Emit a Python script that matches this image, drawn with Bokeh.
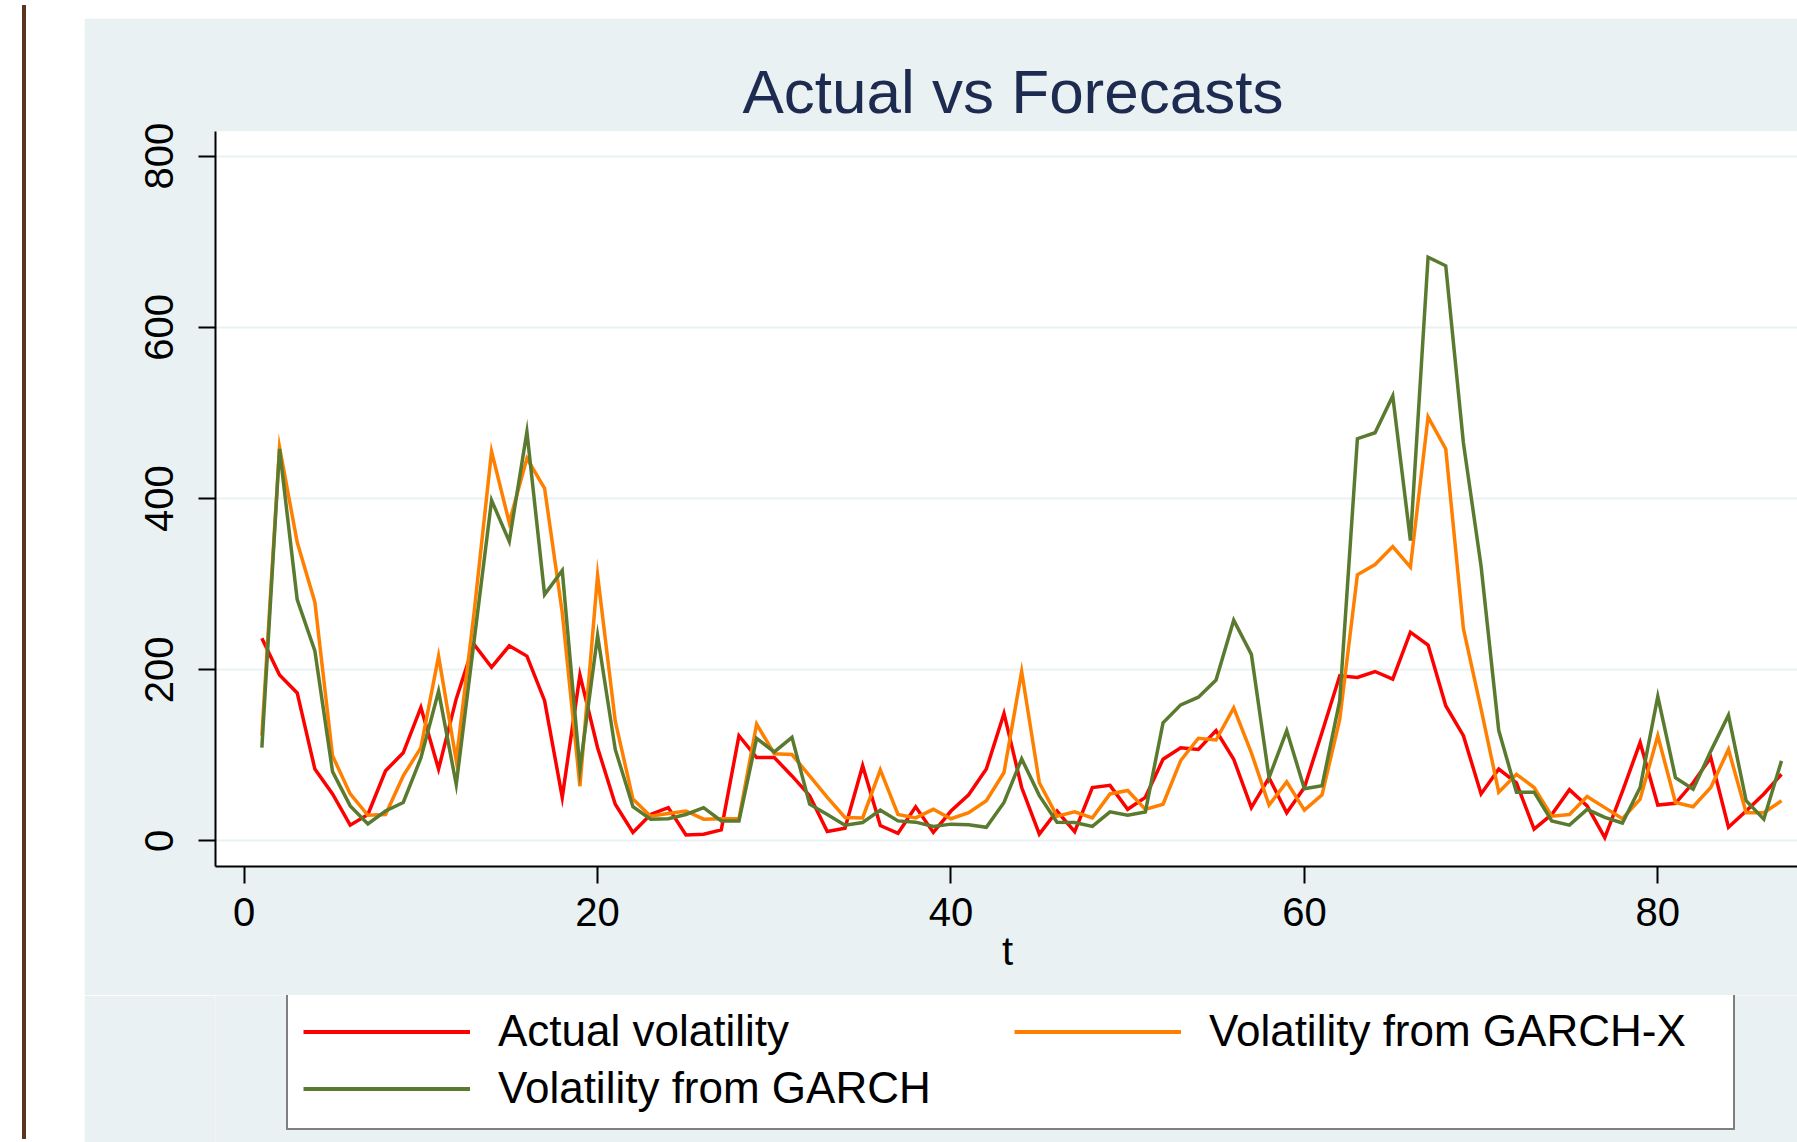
from bokeh.plotting import figure
from bokeh.models import Range1d, Legend, LegendItem, Div, FixedTicker
from bokeh.layouts import row, column
from bokeh.embed import file_html
from bokeh.resources import INLINE

t = list(range(1, 88))

actual = [237, 194, 173, 84, 55, 18.5, 31, 82, 103, 156,
          84, 166, 230, 203, 228, 216, 164, 51, 194, 109,
          43, 10, 31, 39, 7, 8, 13, 123, 97.5, 97.5,
          76, 53, 11, 15, 88, 18, 9, 40, 10, 35,
          54, 84, 149, 62.5, 8, 35, 11, 62.5, 65, 37,
          51, 95.5, 109, 107, 129, 95.5, 39, 74, 33, 62.5,
          127, 193, 191, 198, 189, 244, 229, 158, 123, 55,
          84, 68, 14, 31, 60, 41, 4, 58, 115, 42,
          44, 68, 97.5, 16, 35, 55, 78]

garch_x = [123, 460, 349, 279, 99.5, 55, 30, 31, 76, 109,
           216, 94, 265, 455, 372, 447, 412, 267, 64, 310.5,
           140, 49, 29, 32, 35, 25.5, 26, 26, 136.5, 102,
           101, 76, 51, 27.5, 27, 83, 31, 27, 37, 26,
           33, 47, 80, 198, 68, 29, 34, 27, 55, 59,
           37, 43, 94, 120, 118, 155.5, 103, 42, 69, 36,
           54, 142, 311, 323, 344, 320, 495.5, 458, 248, 154,
           57, 78, 62.5, 29, 31, 52, 39, 26, 49, 123,
           45, 40, 62.5, 107, 33, 33, 47]

garch = [109, 458, 282, 222, 81, 41, 20, 35, 45, 97,
         175, 66, 232, 398, 350, 478, 288, 316, 84, 240,
         107, 40, 25.5, 26, 31, 39, 23.5, 23.5, 120, 104,
         121, 43, 31, 18.5, 21.6, 36, 23.5, 22, 17, 19.7,
         19, 16, 45, 96, 53, 22, 21.6, 17, 34, 30,
         34, 138, 159, 168, 188, 258, 218, 74, 129, 61,
         64.5, 164, 470, 477, 520, 351, 682, 672, 465, 321,
         129, 57, 57, 23.5, 18.5, 37, 27.5, 21, 62.5, 169,
         74, 60.5, 105, 147, 47, 25.5, 93.6]

series_names = ["Actual volatility", "Volatility from GARCH-X", "Volatility from GARCH"]
series_colors = ["#FF0000", "#FF8000", "#5A7B2F"]
y_ticks = [0, 200, 400, 600, 800]
x_ticks = [0, 20, 40, 60, 80]

BG = "#E9F1F3"
FONT = "Liberation Sans"
LW = 3.5

LEFT_W = 74
TOP_H = 8
TOTAL_H = 1134
FIG_W = 1789 - LEFT_W
B = 129
P_H = 848 + B
LF_H = TOTAL_H - TOP_H - P_H

p = figure(width=FIG_W, height=P_H, output_backend="svg", toolbar_location=None,
           x_range=Range1d(-1.624, 88.02), y_range=Range1d(-29.8, 828.9),
           min_border_left=131, min_border_right=0, min_border_top=113,
           min_border_bottom=B, title="Actual vs Forecasts")
p.border_fill_color = BG
p.background_fill_color = "white"
p.outline_line_color = None

p.title.text_font = FONT
p.title.text_font_size = "62px"
p.title.text_font_style = "normal"
p.title.text_color = "#1E2B50"
p.title.align = "left"
p.title.offset = 527
p.title.standoff = 11

for ys, col in zip([actual, garch_x, garch], series_colors):
    p.line(t, ys, line_color=col, line_width=LW, line_join="miter")

for ax in (p.xaxis[0], p.yaxis[0]):
    ax.axis_line_color = "black"
    ax.axis_line_width = 2
    ax.major_tick_line_color = "black"
    ax.major_tick_line_width = 2
    ax.major_tick_out = 17
    ax.major_tick_in = 0
    ax.minor_tick_line_color = None
    ax.major_label_text_font = FONT
    ax.major_label_text_font_size = "40px"
    ax.major_label_text_color = "black"

p.xaxis.ticker = FixedTicker(ticks=x_ticks)
p.yaxis.ticker = FixedTicker(ticks=y_ticks)
p.xaxis.major_label_standoff = 14
p.yaxis.major_label_standoff = 25
p.yaxis.major_label_orientation = "vertical"
p.xaxis.axis_label = "t"
p.xaxis.axis_label_text_font = FONT
p.xaxis.axis_label_text_font_size = "40px"
p.xaxis.axis_label_text_font_style = "normal"
p.xaxis.axis_label_text_color = "black"
p.xaxis.axis_label_standoff = 0

p.xgrid.grid_line_color = None
p.ygrid.grid_line_color = BG
p.ygrid.grid_line_width = 2

# legend panel: a second figure whose frame fills it, so the legend is not clipped;
# its series are the same data, drawn outside its (empty) visible range
lf = figure(width=FIG_W, height=LF_H, output_backend="svg", toolbar_location=None,
            x_axis_type=None, y_axis_type=None,
            x_range=Range1d(-3, -2), y_range=Range1d(-3, -2),
            min_border_left=0, min_border_right=0, min_border_top=0, min_border_bottom=0)
lf.border_fill_color = BG
lf.background_fill_color = BG
lf.outline_line_color = None
lf.xgrid.grid_line_color = None
lf.ygrid.grid_line_color = None

items = []
for name, ys, col in zip(series_names, [actual, garch_x, garch], series_colors):
    r = lf.line(t, ys, line_color=col, line_width=4)
    items.append(LegendItem(label=name, renderers=[r]))

legend = Legend(items=items, location=(71, 14), orientation="horizontal", ncols=2)
legend.label_text_font = FONT
legend.label_text_font_size = "44px"
legend.label_text_color = "black"
legend.glyph_width = 167
legend.glyph_height = 49
legend.label_height = 49
legend.label_width = 509
legend.label_standoff = 28
legend.spacing = 7
legend.padding = 15
legend.margin = 0
legend.border_line_color = "black"
legend.border_line_width = 2.5
legend.background_fill_color = "white"
legend.background_fill_alpha = 1
lf.add_layout(legend, "center")

left = Div(width=LEFT_W, height=TOTAL_H, text="",
           styles={"background": "linear-gradient(to right, white 17px, #5B3520 17px, "
                                 "#5B3520 21px, white 21px)"})
top = Div(width=FIG_W, height=TOP_H, text="", styles={"background": "white"})
layout = row(left, column(top, p, lf))

open("out.html", "w").write(file_html(layout, INLINE))
